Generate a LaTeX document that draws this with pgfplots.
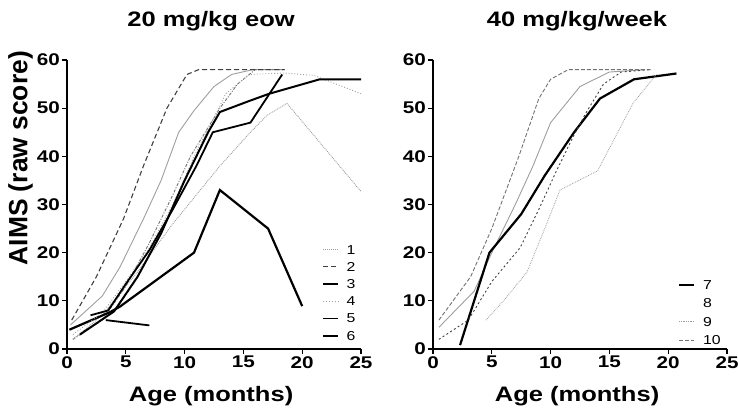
\documentclass[border=0pt]{standalone}
\usepackage{pgfplots}
\pgfplotsset{compat=1.18}
\usepackage{fontspec}
\setmainfont{Liberation Sans}
\newfontfamily\wf[FakeStretch=1.22]{Liberation Sans}
\definecolor{lg}{gray}{0.62}
\definecolor{mg}{gray}{0.45}
\definecolor{dg}{gray}{0.25}
\pgfplotsset{
  panel/.style={
    scale only axis, width=294bp, height=289bp,
    xmin=0, xmax=25, ymin=0, ymax=60,
    axis x line*=bottom, axis y line*=left,
    axis line style={-, line width=1.3bp, black},
    xtick={0,5,...,25}, ytick={0,10,...,60},
    tick align=outside, major tick length=5bp,
    every tick/.style={black, line width=1.2bp},
    /pgf/number format/assume math mode=true,
    tick label style={font=\wf\bfseries\fontsize{17}{17}\selectfont, inner sep=0pt},
    xticklabel style={yshift=-2bp},
    yticklabel style={xshift=-2bp},
    title style={at={(rel axis cs:0.49,1)}, anchor=base, inner sep=0pt, yshift=28bp, font=\wf\bfseries\fontsize{21}{21}\selectfont},
    xlabel style={at={(rel axis cs:0.49,0)}, anchor=base, inner sep=0pt, yshift=-52.5bp, font=\wf\bfseries\fontsize{21}{21}\selectfont},
    legend style={anchor=south west, draw=none, fill=none,
      font=\wf\fontsize{13}{14}\selectfont, inner sep=0pt,
      nodes={inner sep=0pt, text depth=0pt}},
    legend cell align=left,
    legend image code/.code={\draw[#1] (0bp,0bp) -- (15bp,0bp);},
    clip=false,
  }
}
\begin{document}
\begin{tikzpicture}
\useasboundingbox (0,0) rectangle (738bp,415bp);
% ---------------- left panel
\begin{axis}[panel, at={(67bp,66bp)}, anchor=south west,
  title={20 mg/kg eow}, xlabel={Age (months)}, ylabel={AIMS (raw score)},
  ylabel style={at={(rel axis cs:0,0.66)}, anchor=south, inner sep=0pt, yshift=34bp, font=\bfseries\fontsize{26.5}{27}\selectfont},
  legend style={at={(axis cs:21.7,1.8)}, row sep=8.2bp}]
% extras (not in legend)
\addplot[lg, line width=0.9bp, forget plot] coordinates {(0.3,5) (3,11) (4.5,17) (6.5,27) (8,35) (9.5,45) (10.8,49.5) (12.5,54.5) (14,57) (15.8,58) (18.5,58)};
\addplot[mg, line width=0.9bp, dash pattern=on 3bp off 1.5bp on 1bp off 1.5bp, forget plot] coordinates {(0.5,2) (3,6) (5,13) (7,22) (9,32) (10.5,40) (12,46) (13,50) (14.5,55) (16,58) (18.5,58)};
% legend series
\addplot[lg, line width=0.9bp, densely dotted] coordinates {(0.5,2) (3,7) (6,16) (9,26) (11,32) (13,38) (15.6,45) (17,48.5) (18.7,51) (25,32.7)};
\addlegendentry{\hspace{7bp}1}
\addplot[dg, line width=1.1bp, dash pattern=on 5bp off 3bp] coordinates {(0.4,6) (2.5,15) (4.8,27) (6.5,38) (8.5,50) (10.2,57) (11.2,58) (18.5,58)};
\addlegendentry{\hspace{7bp}2}
\addplot[black, line width=2.2bp] coordinates {(0.2,4) (3.7,7.7) (4.5,8.8) (10.8,20) (13,33) (17.1,25) (20,8.9)};
\addlegendentry{\hspace{7bp}3}
\addplot[lg, line width=0.9bp, dotted] coordinates {(0.5,3) (3,7.5) (5,14) (7,21) (9,30) (11,41) (12.5,48) (13.5,53) (15.5,57) (18.5,57.3) (21,56.8) (25,53)};
\addlegendentry{\hspace{7bp}4}
\addplot[black, line width=1.8bp] coordinates {(2,7) (3.5,8) (5,13.5) (7,20.5) (9,29) (11,38) (12.4,45) (15.6,47) (18.3,57)};
\addlegendentry{\hspace{7bp}5}
\addplot[black, line width=2bp] coordinates {(1.1,3) (4,7.8) (6,15) (8,24) (10,35) (12,45) (13,49.2) (15.5,51.5) (17.2,53) (21.5,56) (25,56)};
\addlegendentry{\hspace{7bp}6}
\addplot[black, line width=1.8bp, forget plot] coordinates {(3.3,6) (7,4.9)};
\end{axis}
% ---------------- right panel
\begin{axis}[panel, at={(433bp,66bp)}, anchor=south west,
  title={40 mg/kg/week}, xlabel={Age (months)},
  legend style={at={(axis cs:20.8,0.8)}, row sep=9.5bp}]
\addplot[lg, line width=0.9bp, forget plot] coordinates {(0.5,4.5) (3.5,12) (5,20) (7,30) (8.5,38) (10,47) (11,50) (12.5,54.5) (15,57.5) (18,58)};
\addplot[black, line width=2.2bp] coordinates {(2.3,0.8) (4.8,20) (7.5,28) (9.5,36) (12,45) (14.2,52) (17.1,56) (20.7,57.2)};
\addlegendentry{\hspace{8bp}7}
\addplot[dg, line width=0.9bp, dash pattern=on 2bp off 2.5bp, legend image code/.code={\path[draw=none] (0bp,0bp) -- (15bp,0bp);}] coordinates {(0.5,2) (3,6) (5,14) (7.4,21) (9,29) (10.5,37) (11.9,44) (13,49) (14.5,55) (16,57.5) (18.5,58)};
\addlegendentry{\hspace{8bp}8}
\addplot[lg, line width=0.8bp, densely dotted] coordinates {(4.5,6) (6,10) (8,16) (9.5,25) (10.8,33) (14,37) (17,51) (19,57)};
\addlegendentry{\hspace{8bp}9}
\addplot[mg, line width=0.9bp, dash pattern=on 4bp off 2bp] coordinates {(0.5,6) (3.2,15) (5,25) (7.3,40) (9,52) (10,56) (11.5,58) (18.5,58)};
\addlegendentry{\hspace{8bp}10}
\end{axis}
\end{tikzpicture}
\end{document}
